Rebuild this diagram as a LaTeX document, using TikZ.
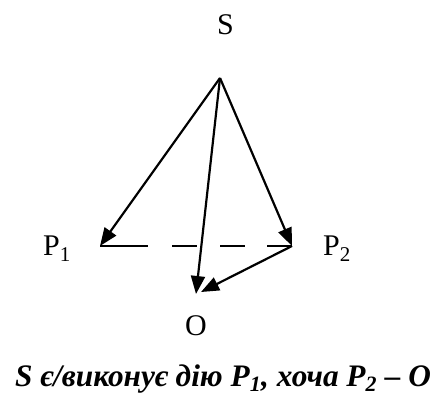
\documentclass[tikz,border=0pt]{standalone}
\usepackage{fontspec}
\setmainfont{Liberation Serif}
\usetikzlibrary{positioning,arrows.meta}

\begin{document}
\begin{tikzpicture}[x=1pt,y=1pt,
  lbl/.style={inner sep=0pt,anchor=base west,font=\fontsize{30}{36}\selectfont},
  arr/.style={line width=2.2pt,-{Triangle[length=18pt,width=14pt]}}]
\useasboundingbox (0,0) rectangle (438,396);
% end points of the arrows
\coordinate (s) at (220,318);
\coordinate (p1) at (100,150);
\coordinate (p2) at (292,150);
\coordinate (o) at (196,102);
\coordinate (oo) at (201,104);
% labels
\node[lbl] (ls) at (217,361) {S};
\node[lbl] (lp1) at (43,140) {P\textsubscript{1}};
\node[lbl] (lp2) at (323,140) {P\textsubscript{2}};
\node[lbl] (lo) at (185,61) {O};
% arrows
\draw[line width=2.2pt,dash pattern={on 48pt off 24pt on 25pt off 23pt on 25pt off 22pt on 25pt}] (p1) -- (p2);
\draw[arr] (s) -- (p1);
\draw[arr] (s) -- (p2);
\draw[arr] (s) -- (o);
\draw[arr] (p2) -- (oo);
% caption
\node[inner sep=0pt,anchor=base,font=\fontsize{31.3}{36}\selectfont\bfseries\itshape] (cap) at (223,10)
  {S є/виконує дію P\textsubscript{1}, хоча P\textsubscript{2} – O};
\end{tikzpicture}
\end{document}
